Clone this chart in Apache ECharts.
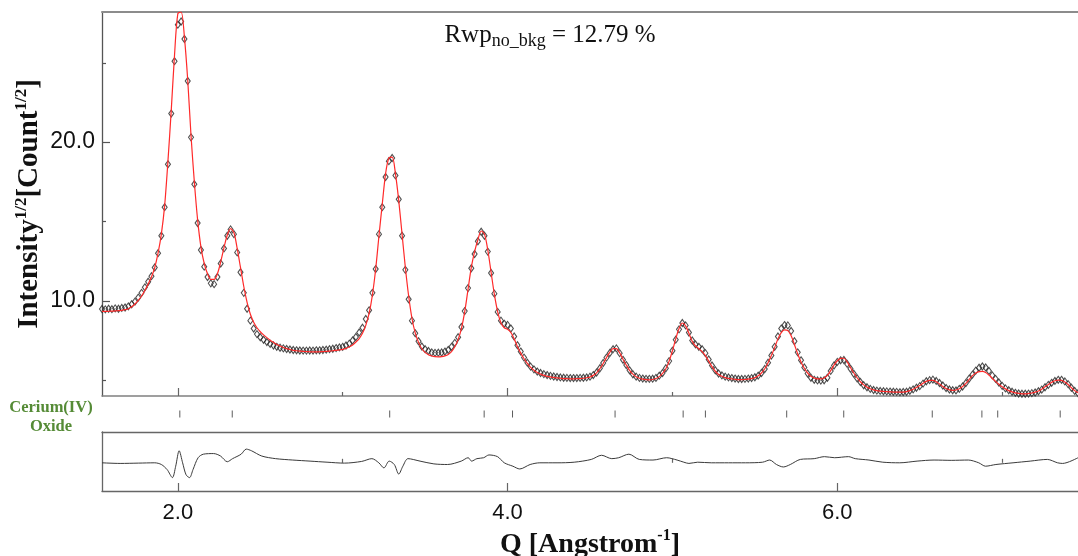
<!DOCTYPE html>
<html>
<head>
<meta charset="utf-8">
<title>Cerium(IV) Oxide refinement</title>
<script src="https://cdn.jsdelivr.net/npm/echarts@6.0.0/dist/echarts.min.js"></script>
<style>
html, body { margin: 0; padding: 0; background: #fff; }
#chart { width: 1078px; height: 556px; }
</style>
</head>
<body>
<div id="chart"></div>
<script>
// observed / calculated sqrt(intensity), sampled every 0.02 from Q = 1.54
const qStart = 1.54;
const qStep = 0.02;

const observed = [
  9.48, 9.46, 9.50, 9.47, 9.52, 9.50, 9.55, 9.58, 9.65, 9.78,
  9.95, 10.2, 10.5, 10.85, 11.2, 11.55, 12.1, 13.0, 14.1, 15.9,
  18.6, 21.8, 25.1, 27.4, 27.6, 26.5, 23.85, 20.3, 17.35, 14.9,
  13.2, 12.15, 11.5, 11.1, 11.05, 11.5, 12.35, 13.3, 14.1, 14.5,
  14.2, 13.05, 11.8, 10.5, 9.5, 8.75, 8.25, 7.9, 7.7, 7.54,
  7.4, 7.28, 7.18, 7.1, 7.04, 7.0, 6.96, 6.93, 6.9, 6.88,
  6.87, 6.86, 6.86, 6.87, 6.86, 6.88, 6.88, 6.9, 6.92, 6.95,
  6.98, 7.02, 7.06, 7.1, 7.18, 7.3, 7.5, 7.72, 8.0, 8.3,
  8.85, 9.4, 10.5, 12.0, 14.2, 15.9, 17.8, 18.8, 19.0, 17.9,
  16.4, 14.1, 11.95, 10.1, 8.75, 7.95, 7.45, 7.12, 6.95, 6.84,
  6.75, 6.72, 6.73, 6.74, 6.8, 6.9, 7.1, 7.35, 7.7, 8.35,
  9.35, 10.8, 12.05, 12.95, 13.75, 14.35, 14.1, 13.1, 11.75, 10.45,
  9.3, 8.75, 8.55, 8.48, 8.25, 7.75, 7.2, 6.8, 6.42, 6.1,
  5.85, 5.68, 5.54, 5.45, 5.38, 5.32, 5.27, 5.23, 5.2, 5.17,
  5.15, 5.14, 5.13, 5.13, 5.13, 5.14, 5.15, 5.17, 5.22, 5.32,
  5.48, 5.75, 6.08, 6.42, 6.71, 6.95, 7.0, 6.7, 6.28, 5.95,
  5.62, 5.37, 5.22, 5.14, 5.1, 5.08, 5.08, 5.09, 5.14, 5.28,
  5.45, 5.75, 6.2, 6.85, 7.55, 8.2, 8.6, 8.45, 8.0, 7.5,
  7.25, 7.1, 6.95, 6.7, 6.3, 5.92, 5.62, 5.42, 5.3, 5.22,
  5.17, 5.13, 5.1, 5.07, 5.07, 5.08, 5.1, 5.13, 5.18, 5.28,
  5.45, 5.7, 6.1, 6.55, 7.1, 7.75, 8.25, 8.47, 8.45, 8.1,
  7.45, 6.75, 6.25, 5.8, 5.42, 5.15, 5.02, 4.98, 4.97, 4.99,
  5.15, 5.58, 5.92, 6.15, 6.25, 6.27, 6.02, 5.72, 5.4, 5.12,
  4.88, 4.68, 4.55, 4.45, 4.38, 4.34, 4.32, 4.3, 4.29, 4.28,
  4.27, 4.26, 4.24, 4.25, 4.27, 4.33, 4.42, 4.52, 4.62, 4.78,
  4.93, 5.0, 5.03, 4.95, 4.82, 4.66, 4.5, 4.41, 4.36, 4.35,
  4.45, 4.6, 4.82, 5.1, 5.35, 5.6, 5.78, 5.86, 5.8, 5.58,
  5.3, 5.08, 4.85, 4.64, 4.48, 4.36, 4.27, 4.2, 4.16, 4.14,
  4.14, 4.15, 4.18, 4.22, 4.3, 4.4, 4.55, 4.7, 4.83, 4.95,
  5.02, 5.02, 4.92, 4.75, 4.52, 4.32, 4.18
];

const calculated = [
  9.33, 9.33, 9.34, 9.35, 9.36, 9.38, 9.4, 9.44, 9.5, 9.62,
  9.8, 10.02, 10.3, 10.65, 11.05, 11.5, 12.1, 13.0, 14.2, 16.0,
  18.8, 22.0, 25.5, 28.1, 28.2, 26.6, 23.9, 20.4, 17.5, 15.1,
  13.4, 12.35, 11.7, 11.35, 11.35, 11.7, 12.45, 13.35, 14.15, 14.55,
  14.3, 13.3, 12.1, 10.9, 9.9, 9.15, 8.65, 8.3, 8.05, 7.85,
  7.68, 7.52, 7.38, 7.25, 7.15, 7.06, 6.99, 6.93, 6.88, 6.85,
  6.83, 6.81, 6.8, 6.79, 6.78, 6.78, 6.79, 6.8, 6.81, 6.83,
  6.85, 6.88, 6.91, 6.94, 7.0, 7.1, 7.22, 7.4, 7.62, 7.95,
  8.45, 9.2, 10.35, 12.0, 14.1, 16.1, 18.0, 19.0, 19.05, 18.0,
  16.3, 14.2, 12.1, 10.3, 8.9, 7.98, 7.38, 6.98, 6.75, 6.6,
  6.52, 6.48, 6.47, 6.48, 6.53, 6.62, 6.8, 7.1, 7.55, 8.25,
  9.3, 10.7, 12.1, 13.1, 13.85, 14.4, 14.2, 13.2, 11.8, 10.4,
  9.3, 8.6, 8.3, 8.2, 8.0, 7.6, 7.1, 6.7, 6.35, 6.05,
  5.8, 5.62, 5.48, 5.38, 5.3, 5.24, 5.2, 5.17, 5.14, 5.12,
  5.1, 5.09, 5.08, 5.08, 5.09, 5.1, 5.12, 5.15, 5.2, 5.3,
  5.46, 5.72, 6.05, 6.42, 6.75, 6.98, 6.98, 6.72, 6.32, 5.95,
  5.62, 5.38, 5.22, 5.12, 5.06, 5.03, 5.02, 5.04, 5.1, 5.22,
  5.42, 5.72, 6.2, 6.85, 7.6, 8.25, 8.6, 8.42, 7.95, 7.45,
  7.15, 6.98, 6.8, 6.55, 6.2, 5.85, 5.56, 5.36, 5.24, 5.16,
  5.11, 5.08, 5.05, 5.03, 5.03, 5.04, 5.06, 5.1, 5.16, 5.27,
  5.45, 5.72, 6.1, 6.55, 7.05, 7.6, 8.0, 8.17, 8.12, 7.8,
  7.25, 6.65, 6.15, 5.75, 5.45, 5.25, 5.13, 5.08, 5.08, 5.14,
  5.3, 5.6, 5.95, 6.22, 6.37, 6.38, 6.15, 5.8, 5.45, 5.15,
  4.9, 4.7, 4.56, 4.46, 4.39, 4.34, 4.31, 4.29, 4.27, 4.26,
  4.25, 4.24, 4.24, 4.25, 4.28, 4.34, 4.43, 4.54, 4.66, 4.8,
  4.92, 4.98, 4.98, 4.9, 4.76, 4.6, 4.47, 4.39, 4.36, 4.38,
  4.46, 4.6, 4.8, 5.05, 5.28, 5.45, 5.54, 5.55, 5.48, 5.32,
  5.12, 4.92, 4.74, 4.58, 4.45, 4.34, 4.26, 4.2, 4.16, 4.14,
  4.14, 4.16, 4.19, 4.24, 4.32, 4.43, 4.58, 4.73, 4.86, 4.96,
  5.0, 4.98, 4.88, 4.72, 4.52, 4.34, 4.2
];

// difference curve (obs - calc), read at its turning points
const diffQ = [
  1.54, 1.65, 1.76, 1.86, 1.90, 1.935, 1.967, 1.987, 2.008, 2.029,
  2.05, 2.071, 2.092, 2.123, 2.155, 2.217, 2.259, 2.30, 2.332, 2.384,
  2.415, 2.447, 2.509, 2.593, 2.697, 2.802, 2.905, 3.01, 3.115, 3.177,
  3.219, 3.25, 3.282, 3.313, 3.34, 3.365, 3.396, 3.469, 3.553, 3.636,
  3.719, 3.761, 3.782, 3.814, 3.855, 3.887, 3.939, 3.98, 4.032, 4.074,
  4.137, 4.196, 4.30, 4.404, 4.508, 4.57, 4.632, 4.674, 4.736, 4.799,
  4.882, 4.965, 5.028, 5.069, 5.10, 5.153, 5.236, 5.34, 5.444, 5.547,
  5.59, 5.631, 5.673, 5.715, 5.776, 5.86, 5.922, 5.984, 6.068, 6.109,
  6.192, 6.276, 6.379, 6.484, 6.587, 6.691, 6.795, 6.858, 6.899, 6.962,
  7.066, 7.17, 7.274, 7.336, 7.367, 7.46
];
const diffValues = [
  0, -0.04, -0.02, 0, -0.11, -0.44, -0.96, -0.22, 0.78, 0,
  -0.78, -0.96, -0.44, 0.33, 0.56, 0.6, 0.44, 0.07, 0.27, 0.56,
  0.89, 0.78, 0.44, 0.27, 0.18, 0.11, 0.04, -0.02, 0.09, 0.27,
  0, -0.33, 0.11, -0.11, -0.73, -0.22, 0.27, 0.11, -0.07, -0.11,
  0.11, 0.33, 0.11, 0.27, 0.33, 0.51, 0.4, 0, -0.22, -0.4,
  -0.11, 0, 0, 0.04, 0.22, 0.49, 0.27, 0.33, 0.56, 0.22,
  0.18, 0.33, 0.18, 0.04, -0.04, 0.04, 0, 0, 0, 0.04,
  0.18, -0.11, -0.27, -0.11, 0.22, 0.27, 0.4, 0.33, 0.4, 0.27,
  0.18, 0.04, 0, 0.11, 0.18, 0.16, 0.18, 0, -0.22, -0.11,
  0, 0.11, 0.22, 0, -0.04, 0.33
];

// Cerium(IV) Oxide reflection positions
const reflections = [2.012, 2.33, 3.285, 3.858, 4.03, 4.652, 5.065, 5.2, 5.693,
  6.039, 6.576, 6.877, 6.973, 7.352];

const majorTicks = [2, 4, 6];
const minorTicks = [3, 5, 7];
const yMajorTicks = [10, 20];
const yMinorTicks = [5, 15, 25];

const qGrid = observed.map((v, i) => +(qStart + i * qStep).toFixed(2));

const chart = echarts.init(document.getElementById('chart'));

const xMin = 1.54, xMax = 7.46;
const axisGray = '#808080';
const sans = 'Liberation Sans';
const serif = 'Liberation Serif';

function xAxisBase(gridIndex, extra) {
  return Object.assign({
    type: 'value', gridIndex: gridIndex, min: xMin, max: xMax,
    splitLine: { show: false },
    axisLabel: { show: false },
    axisTick: { show: false },
    axisLine: { show: false }
  }, extra);
}

chart.setOption({
  animation: false,
  backgroundColor: '#fff',
  grid: [
    { left: 102, right: 0, top: 12, height: 384, outerBoundsMode: 'none' },
    { left: 102, right: 0, top: 404, height: 20, outerBoundsMode: 'none' },
    { left: 102, right: 0, top: 432, height: 59, outerBoundsMode: 'none' }
  ],
  xAxis: [
    xAxisBase(0, {
      position: 'bottom',
      axisLine: { show: true, onZero: false, lineStyle: { color: axisGray, width: 1.5 } },
      axisTick: { show: true, inside: true, length: 8, customValues: majorTicks, lineStyle: { color: '#666', width: 1.2 } }
    }),
    xAxisBase(0, {
      position: 'bottom',
      axisTick: { show: true, inside: true, length: 4, customValues: minorTicks, lineStyle: { color: '#666', width: 1.2 } }
    }),
    xAxisBase(0, {
      position: 'top',
      axisLine: { show: true, onZero: false, lineStyle: { color: '#8c8c8c', width: 2 } }
    }),
    xAxisBase(1, {}),
    xAxisBase(2, {
      position: 'bottom',
      axisLine: { show: true, onZero: false, lineStyle: { color: '#666', width: 1.3 } },
      axisTick: { show: true, inside: true, length: 8, customValues: majorTicks, lineStyle: { color: '#666', width: 1.2 } },
      axisLabel: {
        show: true, customValues: majorTicks, margin: 11,
        fontFamily: sans, fontSize: 22, color: '#111',
        formatter: v => v.toFixed(1)
      },
      name: 'Q [Angstrom{s|-1}]',
      nameLocation: 'middle',
      nameGap: 37,
      nameMoveOverlap: false,
      nameTextStyle: {
        fontFamily: serif, fontWeight: 'bold', fontSize: 28, color: '#111', lineHeight: 34,
        rich: { s: { fontFamily: serif, fontWeight: 'bold', fontSize: 16, lineHeight: 16, verticalAlign: 'top', color: '#111' } }
      }
    }),
    xAxisBase(2, {
      position: 'bottom',
      axisTick: { show: true, inside: true, length: 4, customValues: minorTicks, lineStyle: { color: '#666', width: 1.2 } }
    }),
    xAxisBase(2, {
      position: 'top',
      axisLine: { show: true, onZero: false, lineStyle: { color: '#666', width: 1.3 } }
    })
  ],
  yAxis: [
    {
      type: 'value', gridIndex: 0, min: 4, max: 28.2, position: 'left',
      splitLine: { show: false },
      axisLine: { show: true, onZero: false, lineStyle: { color: '#555', width: 1.3 } },
      axisTick: { show: true, inside: true, length: 8, customValues: yMajorTicks, lineStyle: { color: '#555', width: 1.2 } },
      axisLabel: {
        customValues: yMajorTicks, margin: 7,
        fontFamily: sans, fontSize: 23, color: '#111',
        formatter: v => v.toFixed(1)
      },
      name: 'Intensity{s|1/2}[Count{s|1/2}]',
      nameLocation: 'middle',
      nameGap: 55,
      nameMoveOverlap: false,
      nameTextStyle: {
        fontFamily: serif, fontWeight: 'bold', fontSize: 29, color: '#111', lineHeight: 34,
        rich: { s: { fontFamily: serif, fontWeight: 'bold', fontSize: 17, lineHeight: 17, verticalAlign: 'top', color: '#111' } }
      }
    },
    {
      type: 'value', gridIndex: 0, min: 4, max: 28.2, position: 'left',
      splitLine: { show: false }, axisLine: { show: false }, axisLabel: { show: false },
      axisTick: { show: true, inside: true, length: 4, customValues: yMinorTicks, lineStyle: { color: '#555', width: 1.2 } }
    },
    {
      type: 'value', gridIndex: 1, min: 0, max: 1, show: false
    },
    {
      type: 'value', gridIndex: 2, min: -1.83, max: 2.0, position: 'left',
      splitLine: { show: false }, axisLabel: { show: false }, axisTick: { show: false },
      axisLine: { show: true, onZero: false, lineStyle: { color: '#666', width: 1.3 } }
    }
  ],
  graphic: [
    {
      type: 'text', x: 550, y: 20,
      style: {
        text: 'Rwp{s|no_bkg} = 12.79 %',
        align: 'center',
        fontFamily: serif, fontSize: 25, fill: '#111', lineHeight: 30,
        rich: { s: { fontFamily: serif, fontSize: 18, lineHeight: 18, verticalAlign: 'bottom', fill: '#111' } }
      }
    },
    {
      type: 'text', x: 51, y: 398,
      style: {
        text: 'Cerium(IV)\nOxide',
        align: 'center',
        fontFamily: serif, fontWeight: 'bold', fontSize: 16.5, lineHeight: 19, fill: '#558b36'
      }
    }
  ],
  series: [
    {
      name: 'Observed', type: 'scatter', xAxisIndex: 0, yAxisIndex: 0,
      data: qGrid.map((q, i) => [q, observed[i]]),
      symbol: 'diamond', symbolSize: [5, 7],
      itemStyle: { color: 'rgba(255,255,255,0)', borderColor: '#222', borderWidth: 1.1 },
      silent: true, z: 2
    },
    {
      name: 'Calculated', type: 'line', xAxisIndex: 0, yAxisIndex: 0,
      data: qGrid.map((q, i) => [q, calculated[i]]),
      showSymbol: false, smooth: 0.3,
      lineStyle: { color: '#ff2a2a', width: 1.2 },
      silent: true, z: 3
    },
    {
      name: 'Reflections', type: 'scatter', xAxisIndex: 3, yAxisIndex: 2,
      data: reflections.map(q => [q, 0.5]),
      symbol: 'rect', symbolSize: [1, 7],
      itemStyle: { color: '#333' },
      silent: true
    },
    {
      name: 'Difference', type: 'line', xAxisIndex: 4, yAxisIndex: 3,
      data: diffQ.map((q, i) => [q, diffValues[i]]),
      showSymbol: false, smooth: 0.3,
      lineStyle: { color: '#3a3a3a', width: 1 },
      silent: true
    }
  ]
});
</script>
</body>
</html>
